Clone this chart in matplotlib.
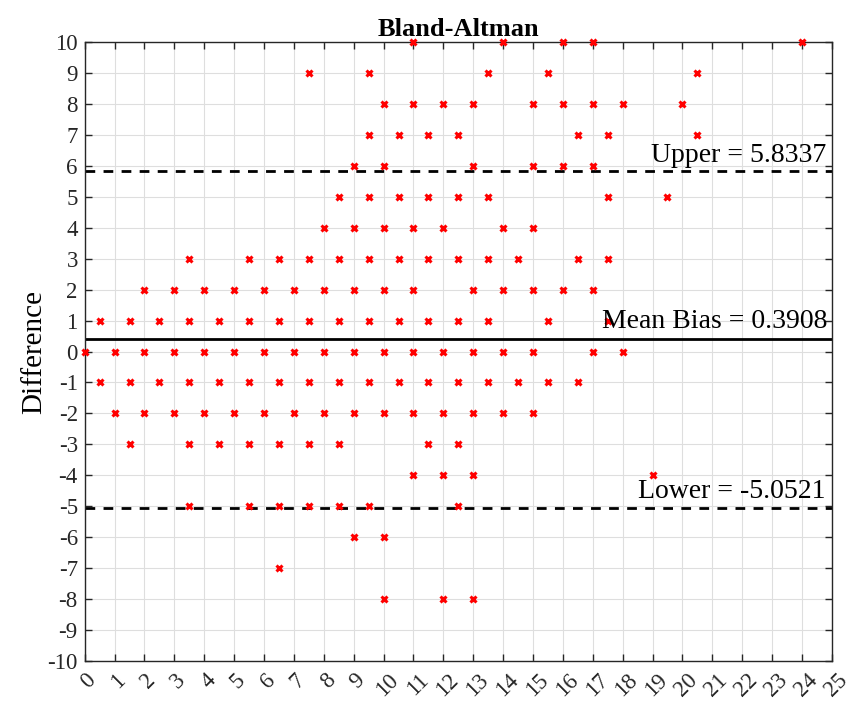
import numpy as np
import matplotlib
matplotlib.use('Agg')
import matplotlib.pyplot as plt
import matplotlib.transforms as mtransforms

plt.rcParams['font.family'] = ['Liberation Serif', 'DejaVu Serif']
plt.rcParams['axes.unicode_minus'] = False

# 每一列(x)对应的差值点
x_vals = [0,
          0.5, 0.5,
          1, 1,
          1.5, 1.5, 1.5,
          2, 2, 2,
          2.5, 2.5,
          3, 3, 3,
          3.5, 3.5, 3.5, 3.5, 3.5,
          4, 4, 4,
          4.5, 4.5, 4.5,
          5, 5, 5,
          5.5, 5.5, 5.5, 5.5, 5.5,
          6, 6, 6,
          6.5, 6.5, 6.5, 6.5, 6.5, 6.5,
          7, 7, 7,
          7.5, 7.5, 7.5, 7.5, 7.5, 7.5,
          8, 8, 8, 8,
          8.5, 8.5, 8.5, 8.5, 8.5, 8.5,
          9, 9, 9, 9, 9, 9,
          9.5, 9.5, 9.5, 9.5, 9.5, 9.5, 9.5,
          10, 10, 10, 10, 10, 10, 10, 10,
          10.5, 10.5, 10.5, 10.5, 10.5,
          11, 11, 11, 11, 11, 11, 11,
          11.5, 11.5, 11.5, 11.5, 11.5, 11.5,
          12, 12, 12, 12, 12, 12,
          12.5, 12.5, 12.5, 12.5, 12.5, 12.5, 12.5,
          13, 13, 13, 13, 13, 13, 13,
          13.5, 13.5, 13.5, 13.5, 13.5,
          14, 14, 14, 14, 14,
          14.5, 14.5,
          15, 15, 15, 15, 15, 15,
          15.5, 15.5, 15.5,
          16, 16, 16, 16,
          16.5, 16.5, 16.5,
          17, 17, 17, 17, 17,
          17.5, 17.5, 17.5, 17.5,
          18, 18,
          19,
          19.5,
          20,
          20.5, 20.5,
          24]
y_vals = [0,
          1, -1,
          0, -2,
          1, -1, -3,
          2, 0, -2,
          1, -1,
          2, 0, -2,
          3, 1, -1, -3, -5,
          2, 0, -2,
          1, -1, -3,
          2, 0, -2,
          3, 1, -1, -3, -5,
          2, 0, -2,
          3, 1, -1, -3, -5, -7,
          2, 0, -2,
          9, 3, 1, -1, -3, -5,
          4, 2, 0, -2,
          5, 3, 1, -1, -3, -5,
          6, 4, 2, 0, -2, -6,
          9, 7, 5, 3, 1, -1, -5,
          8, 6, 4, 2, 0, -2, -6, -8,
          7, 5, 3, 1, -1,
          10, 8, 4, 2, 0, -2, -4,
          7, 5, 3, 1, -1, -3,
          8, 4, 0, -2, -4, -8,
          7, 5, 3, 1, -1, -3, -5,
          8, 6, 2, 0, -2, -4, -8,
          9, 5, 3, 1, -1,
          10, 4, 2, 0, -2,
          3, -1,
          8, 6, 4, 2, 0, -2,
          9, 1, -1,
          10, 8, 6, 2,
          7, 3, -1,
          10, 8, 6, 2, 0,
          7, 5, 3, 1,
          8, 0,
          -4,
          5,
          8,
          9, 7,
          10]

mean_bias = 0.3908
upper = 5.8337
lower = -5.0521

fig = plt.figure(figsize=(8.49, 7.06), dpi=100)
ax = fig.add_axes([0.0998, 0.0633, 0.880, 0.8776])

ax.plot(x_vals, y_vals, 'x', color='red', markersize=4.5, markeredgewidth=2.2,
        zorder=3, clip_on=False)
ax.axhline(mean_bias, color='black', linewidth=2, zorder=2)
ax.axhline(upper, color='black', linewidth=2, linestyle=(0, (3.5, 3)), zorder=2)
ax.axhline(lower, color='black', linewidth=2, linestyle=(0, (3.5, 3)), zorder=2)

# 标注文字
ax.text(24.8, upper + 0.1, 'Upper = 5.8337', ha='right', va='bottom', fontsize=20)
ax.text(24.85, mean_bias + 0.18, 'Mean Bias = 0.3908', ha='right', va='bottom', fontsize=20)
ax.text(24.8, lower + 0.12, 'Lower = -5.0521', ha='right', va='bottom', fontsize=20)

ax.set_xlim(0, 25)
ax.set_ylim(-10, 10)
ax.set_xticks(np.arange(0, 26, 1))
ax.set_yticks(np.arange(-10, 11, 1))
ax.set_xticklabels([str(i) for i in range(26)], rotation=45, ha='center')

ax.tick_params(direction='in', length=5, width=1, top=True, right=True,
               labelsize=16.5, colors='#262626', labelcolor='#262626')
ax.tick_params(axis='x', pad=6)
ax.tick_params(axis='y', pad=5)
for sp in ax.spines.values():
    sp.set_color('#262626')
    sp.set_linewidth(1)
ax.grid(True, color='#dedede', linewidth=0.8)
ax.set_axisbelow(True)

# x 刻度标签稍微右移
offset = mtransforms.ScaledTranslation(4 / 100, 0, fig.dpi_scale_trans)
for lab in ax.get_xticklabels():
    lab.set_transform(lab.get_transform() + offset)

ax.set_title('Bland-Altman', fontsize=19, fontweight='bold', pad=4)
ax.set_ylabel('Difference', fontsize=21, labelpad=0)

fig.savefig('out.png', dpi=100)
